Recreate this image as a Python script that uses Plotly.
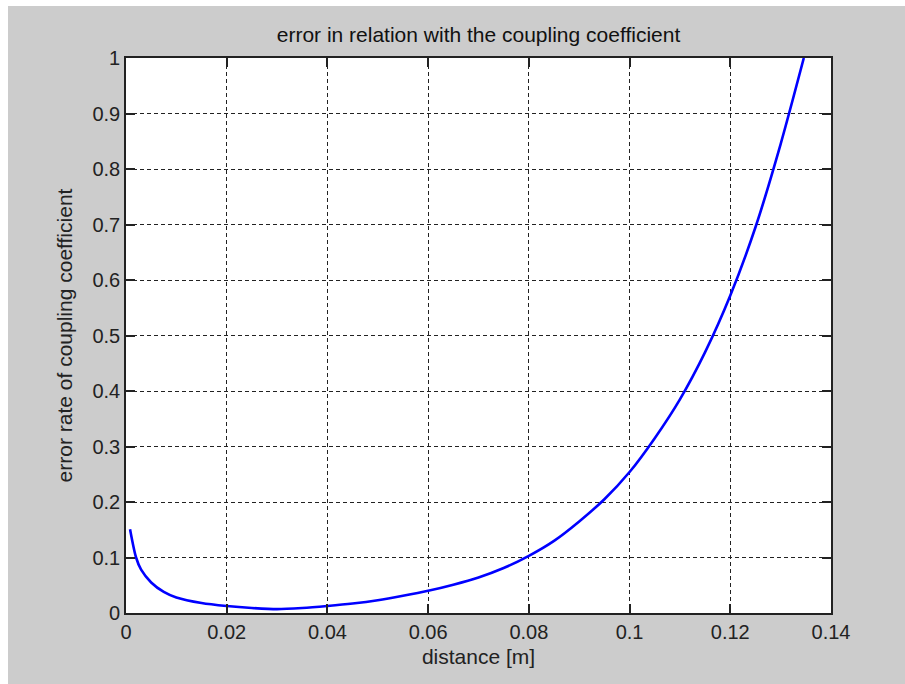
import plotly.graph_objects as go

distance = [0.0008, 0.002, 0.003, 0.005, 0.0075, 0.01, 0.015, 0.02, 0.025, 0.03,
            0.035, 0.04, 0.045, 0.05, 0.055, 0.06, 0.065, 0.07, 0.075, 0.08,
            0.085, 0.09, 0.095, 0.1, 0.105, 0.11, 0.115, 0.12, 0.125, 0.13,
            0.1346]
error_rate = [0.151, 0.1, 0.078, 0.055, 0.038, 0.028, 0.018, 0.0126, 0.009, 0.007,
              0.009, 0.0126, 0.017, 0.023, 0.031, 0.04, 0.051, 0.064, 0.081, 0.103,
              0.13, 0.165, 0.205, 0.254, 0.315, 0.385, 0.47, 0.572, 0.695, 0.845,
              1.0]

x_ticks = [0, 0.02, 0.04, 0.06, 0.08, 0.1, 0.12, 0.14]
x_labels = ["0", "0.02", "0.04", "0.06", "0.08", "0.1", "0.12", "0.14"]
y_ticks = [0, 0.1, 0.2, 0.3, 0.4, 0.5, 0.6, 0.7, 0.8, 0.9, 1]
y_labels = ["0", "0.1", "0.2", "0.3", "0.4", "0.5", "0.6", "0.7", "0.8", "0.9", "1"]

W, H = 905, 684
L, R, T, B = 126, 74, 58, 71
pw, ph = W - L - R, H - T - B

FAM = "Liberation Sans, Arial, sans-serif"
tick_font = dict(family=FAM, size=20, color="#222222")
title_font = dict(family=FAM, size=21, color="#222222")

fig = go.Figure()
fig.add_trace(go.Scatter(x=distance, y=error_rate, mode="lines",
                         line=dict(color="#0000ff", width=2.6, shape="spline", smoothing=0.8),
                         showlegend=False, hoverinfo="skip"))

axis_common = dict(
    showline=True, linecolor="#222222", linewidth=1.6, mirror="ticks",
    ticks="inside", ticklen=9, tickcolor="#222222", tickwidth=1.6,
    showgrid=True, gridcolor="#222222", gridwidth=1.3, griddash="4px,3px",
    zeroline=False, tickfont=tick_font,
)

fig.update_xaxes(range=[0, 0.14], tickvals=x_ticks, ticktext=x_labels,
                 title=dict(text="distance [m]", font=title_font, standoff=8),
                 **axis_common)
fig.update_yaxes(range=[0, 1], tickvals=y_ticks, ticktext=y_labels,
                 title=dict(text="error rate of coupling coefficient", font=title_font, standoff=14),
                 **axis_common)

fig.update_layout(
    width=W, height=H,
    margin=dict(l=L, r=R, t=T, b=B, pad=0),
    paper_bgcolor="#cccccc", plot_bgcolor="#ffffff",
    title=dict(text="error in relation with the coupling coefficient",
               font=dict(family=FAM, size=21, color="#111111"),
               x=(L + pw / 2) / W, xanchor="center", y=1 - 35 / H, yanchor="middle"),
    shapes=[
        dict(type="rect", xref="paper", yref="paper",
             x0=-L / pw, x1=(W - L) / pw, y0=1 + (T - 6) / ph, y1=1 + T / ph + 0.01,
             fillcolor="#ffffff", line=dict(width=0), layer="above"),
        dict(type="rect", xref="paper", yref="paper",
             x0=-L / pw - 0.01, x1=-(L - 8) / pw, y0=-B / ph - 0.01, y1=1 + T / ph + 0.01,
             fillcolor="#ffffff", line=dict(width=0), layer="above"),
    ],
)

fig.write_html("out.html")
